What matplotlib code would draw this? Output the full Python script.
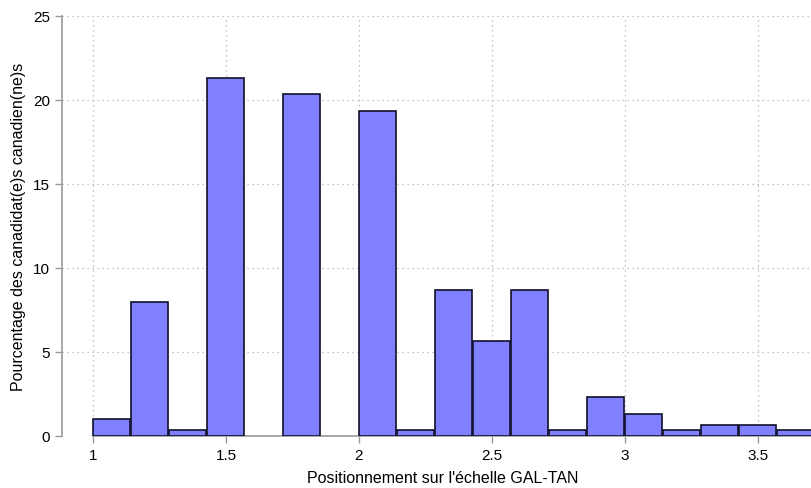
import matplotlib.pyplot as plt

plt.rcParams['font.family'] = ['Liberation Sans', 'DejaVu Sans']

# bin left edges (width 1/7) and percentages
bin_left = [1.000, 1.143, 1.286, 1.429, 1.571, 1.714, 1.857, 2.000, 2.143, 2.286,
            2.429, 2.571, 2.714, 2.857, 3.000, 3.143, 3.286, 3.429, 3.571]
pct = [1.0, 8.0, 0.33, 21.33, 0, 20.33, 0, 19.33, 0.33, 8.67,
       5.67, 8.67, 0.33, 2.33, 1.33, 0.33, 0.67, 0.67, 0.33]
bin_w = 1 / 7
xticks = [1, 1.5, 2, 2.5, 3, 3.5]
yticks = [0, 5, 10, 15, 20, 25]

fig = plt.figure(figsize=(8.12, 4.89), dpi=100)
ax = fig.add_axes([62 / 812, 52 / 489, 1 - 62 / 812, (437 - 17) / 489])

# keep only non-empty bins
xs = [b for b, p in zip(bin_left, pct) if p > 0]
hs = [p for p in pct if p > 0]
ax.bar(xs, hs, width=bin_w - 0.005, align='edge', color='#8080ff',
       edgecolor='#10102a', linewidth=1.2, zorder=3)

ax.set_xlim(0.8835, 3.703)
ax.set_ylim(0, 25)
ax.set_xticks(xticks)
ax.set_xticklabels(['1', '1.5', '2', '2.5', '3', '3.5'])
ax.set_yticks(yticks)

ax.grid(True, linestyle=(0, (1, 3)), color='#b0b0b0', linewidth=0.9, zorder=0)
for s in ['top', 'right']:
    ax.spines[s].set_visible(False)
for s in ['left', 'bottom']:
    ax.spines[s].set_color('#999999')
    ax.spines[s].set_linewidth(1.2)
ax.spines['bottom'].set_bounds(1, 3.703)
ax.tick_params(colors='#999999', length=5, width=1, labelcolor='black', labelsize=11)

ax.set_xlabel("Positionnement sur l'échelle GAL-TAN", fontsize=11.5, labelpad=6)
ax.xaxis.label.set_x((443 - 62) / 750)
ax.set_ylabel("Pourcentage des canadidat(e)s canadien(ne)s", fontsize=11.5, labelpad=5)

fig.savefig('out.png', dpi=100)
